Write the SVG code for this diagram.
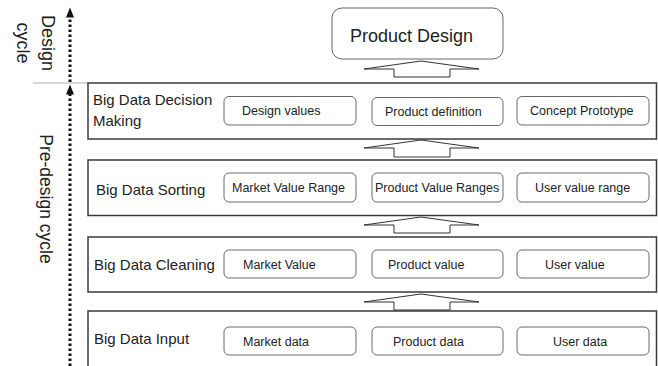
<svg xmlns="http://www.w3.org/2000/svg" width="658" height="366" viewBox="0 0 658 366">
  <defs>
    <style>
      .layer { fill: #ffffff; stroke: #3a3a3a; stroke-width: 1.5; }
      .item { fill: #ffffff; stroke: #6a6a6a; stroke-width: 1; }
      .top { fill: #ffffff; stroke: #666666; stroke-width: 1; }
      .lbl { font-family: "Liberation Sans", Arial, sans-serif; font-size: 15px; fill: #222222; }
      .itm { font-family: "Liberation Sans", Arial, sans-serif; font-size: 12.5px; fill: #222222; }
      .side { font-family: "Liberation Sans", Arial, sans-serif; font-size: 18px; fill: #222222; }
      .up { fill: #ffffff; stroke: #333333; stroke-width: 1; stroke-linejoin: miter; }
      .dots { fill: none; stroke: #111111; stroke-width: 3; stroke-dasharray: 2.6 2.4; }
    </style>
  </defs>

  <!-- cycle annotations on the left -->
  <g id="cycles">
    <line x1="33" y1="83" x2="88" y2="83" stroke="#b0b0b0" stroke-width="1"/>
    <text class="side" transform="translate(42,43) rotate(90)" text-anchor="middle">Design</text>
    <text class="side" transform="translate(17,43) rotate(90)" text-anchor="middle">cycle</text>
    <text class="side" style="font-size:17.5px" transform="translate(40,199) rotate(90)" text-anchor="middle">Pre-design cycle</text>
  </g>

  <!-- top node -->
  <g id="product-design">
    <rect class="top" x="332" y="8" width="171" height="51" rx="10"/>
    <text class="side" x="350" y="42">Product Design</text>
  </g>

  <!-- layer: decision making -->
  <g id="decision-making">
    <rect class="layer" x="88" y="83" width="568.5" height="56"/>
    <text class="lbl" x="93" y="105">Big Data Decision</text>
    <text class="lbl" x="93" y="126">Making</text>
    <rect class="item" x="224" y="96.5" width="132" height="28.5" rx="5"/>
    <text class="itm" x="242" y="115">Design values</text>
    <rect class="item" x="372" y="97.5" width="131" height="28" rx="5"/>
    <text class="itm" x="385" y="115.5">Product definition</text>
    <rect class="item" x="517" y="96.5" width="132" height="28.5" rx="5"/>
    <text class="itm" x="530" y="115">Concept Prototype</text>
  </g>

  <!-- layer: sorting -->
  <g id="sorting">
    <rect class="layer" x="88" y="160" width="568.5" height="55.5"/>
    <text class="lbl" x="96" y="195">Big Data Sorting</text>
    <rect class="item" x="224" y="173" width="132" height="29" rx="5"/>
    <text class="itm" x="232" y="192">Market Value Range</text>
    <rect class="item" x="372" y="173" width="131" height="29" rx="5"/>
    <text class="itm" x="375" y="192">Product Value Ranges</text>
    <rect class="item" x="517" y="173" width="132" height="29" rx="5"/>
    <text class="itm" x="535" y="192">User value range</text>
  </g>

  <!-- layer: cleaning -->
  <g id="cleaning">
    <rect class="layer" x="88" y="237" width="568.5" height="55"/>
    <text class="lbl" x="94" y="270">Big Data Cleaning</text>
    <rect class="item" x="224" y="250" width="132" height="28" rx="5"/>
    <text class="itm" x="243" y="268.5">Market Value</text>
    <rect class="item" x="372" y="250" width="131" height="28" rx="5"/>
    <text class="itm" x="388" y="268.5">Product value</text>
    <rect class="item" x="517" y="250" width="132" height="28" rx="5"/>
    <text class="itm" x="545" y="268.5">User value</text>
  </g>

  <!-- layer: input (runs past the bottom edge) -->
  <g id="input">
    <rect class="layer" x="88" y="311" width="568.5" height="70"/>
    <text class="lbl" x="94" y="344">Big Data Input</text>
    <rect class="item" x="224" y="327" width="132" height="28" rx="5"/>
    <text class="itm" x="243" y="345.5">Market data</text>
    <rect class="item" x="372" y="327" width="131" height="28" rx="5"/>
    <text class="itm" x="393" y="345.5">Product data</text>
    <rect class="item" x="517" y="327" width="132" height="28" rx="5"/>
    <text class="itm" x="553" y="345.5">User data</text>
  </g>

  <!-- connectors: block arrows between layers and dotted cycle arrows -->
  <g id="connectors">
    <polygon class="up" points="364,69 421,61 479,69 450,69 450,77 394,77 394,69"/>
    <polygon class="up" points="364,148 421,140 479,148 450,148 450,157 394,157 394,148"/>
    <polygon class="up" points="364,225 421,217 479,225 450,225 450,233 394,233 394,225"/>
    <polygon class="up" points="364,302 421,294 479,302 450,302 450,310 394,310 394,302"/>

    <line class="dots" x1="70" y1="82" x2="70" y2="17"/>
    <path d="M66,17.5 L74,17.5 L70,7.5 z" fill="#111111"/>
    <line class="dots" x1="70" y1="366" x2="70" y2="94"/>
    <path d="M66,94.5 L74,94.5 L70,84.5 z" fill="#111111"/>
  </g>
</svg>
